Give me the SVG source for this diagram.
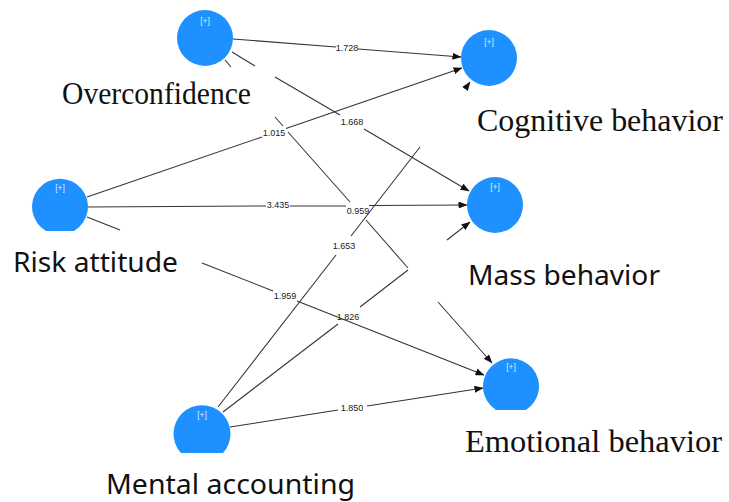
<svg xmlns="http://www.w3.org/2000/svg" width="729" height="502" viewBox="0 0 729 502">
<style>
.node{fill:#1E90FF}
.plus{font-family:"Liberation Sans","DejaVu Sans",sans-serif;font-size:8.5px;fill:#dbeeff;text-anchor:middle}
.serif{font-family:"Liberation Serif","DejaVu Serif",serif;font-size:32px;fill:#111}
.sans{font-family:"Noto Sans","Open Sans","DejaVu Sans",sans-serif;font-size:27px;fill:#111}
.edge{fill:none;stroke:#333;stroke-width:1.05;marker-end:url(#arr)}
.val{font-family:"Liberation Sans","DejaVu Sans",sans-serif;font-size:9px;fill:#222;text-anchor:middle;dominant-baseline:central}
</style>
<defs>
<marker id="arr" markerUnits="userSpaceOnUse" markerWidth="9" markerHeight="7" refX="8.5" refY="3.5" orient="auto">
<path d="M0,0 L9,3.5 L0,7 z" fill="#111"/>
</marker>
</defs>
<rect width="729" height="502" fill="#fff"/>
<g id="connectors">
<path class="edge" d="M233,39 L336,47 M358,49 L461,57"/>
<path class="edge" d="M232,52 L255,66 M275,77 L340,115 M364,129 L469,191"/>
<path class="edge" d="M225,60 L231,67 M275,117 L283,126 M288,132 L350,202 M366,220 L408,268 M438,302 L492,363"/>
<path class="edge" d="M87,197 L262,137 M286,128.5 L462,68"/>
<path class="edge" d="M88,207 L266,206 M290,206 L346,206 M369,205.5 L467,205"/>
<path class="edge" d="M87,217 L120,230 M202,263 L273,291 M297,301 L484,375"/>
<path class="edge" d="M218,407 L336,255 M351,236 L420,147 M465,89 L470,82"/>
<path class="edge" d="M223,412 L338,324 M360,307 L408,270 M447,240 L470,222"/>
<path class="edge" d="M230,427 L338,410 M367,406 L483,388"/>
<text class="val" x="347" y="48">1.728</text>
<text class="val" x="352" y="122">1.668</text>
<text class="val" x="358" y="211">0.959</text>
<text class="val" x="274" y="133">1.015</text>
<text class="val" x="278" y="205">3.435</text>
<text class="val" x="285" y="296">1.959</text>
<text class="val" x="344" y="246">1.653</text>
<text class="val" x="348" y="317">1.826</text>
<text class="val" x="352" y="408">1.850</text>
</g>
<g id="overconfidence">
<circle class="node" cx="205" cy="38" r="28"/>
<text class="plus" x="205" y="24">[+]</text>
<text class="serif" x="62" y="104" textLength="189" lengthAdjust="spacingAndGlyphs">Overconfidence</text>
</g>
<g id="risk-attitude">
<path class="node" d="M46,231 A28,28 0 1 1 74,231 Z"/>
<text class="plus" x="60" y="191">[+]</text>
<text class="sans" x="13" y="272" textLength="165" lengthAdjust="spacingAndGlyphs">Risk attitude</text>
</g>
<g id="mental-accounting">
<path class="node" d="M181,453 A28.5,28.5 0 1 1 223,453 Z"/>
<text class="plus" x="202" y="418">[+]</text>
<text class="sans" x="106" y="494" font-size="26" textLength="249" lengthAdjust="spacingAndGlyphs">Mental accounting</text>
</g>
<g id="cognitive-behavior">
<circle class="node" cx="489" cy="58" r="28"/>
<text class="plus" x="489" y="45">[+]</text>
<text class="serif" x="477" y="131" textLength="246" lengthAdjust="spacingAndGlyphs">Cognitive behavior</text>
</g>
<g id="mass-behavior">
<circle class="node" cx="495" cy="205" r="28"/>
<text class="plus" x="495" y="190">[+]</text>
<text class="sans" x="468" y="285" textLength="192" lengthAdjust="spacingAndGlyphs">Mass behavior</text>
</g>
<g id="emotional-behavior">
<path class="node" d="M496,410 A28,28 0 1 1 526,410 Z"/>
<text class="plus" x="511" y="370">[+]</text>
<text class="serif" x="465" y="452" textLength="257" lengthAdjust="spacingAndGlyphs">Emotional behavior</text>
</g>
</svg>
